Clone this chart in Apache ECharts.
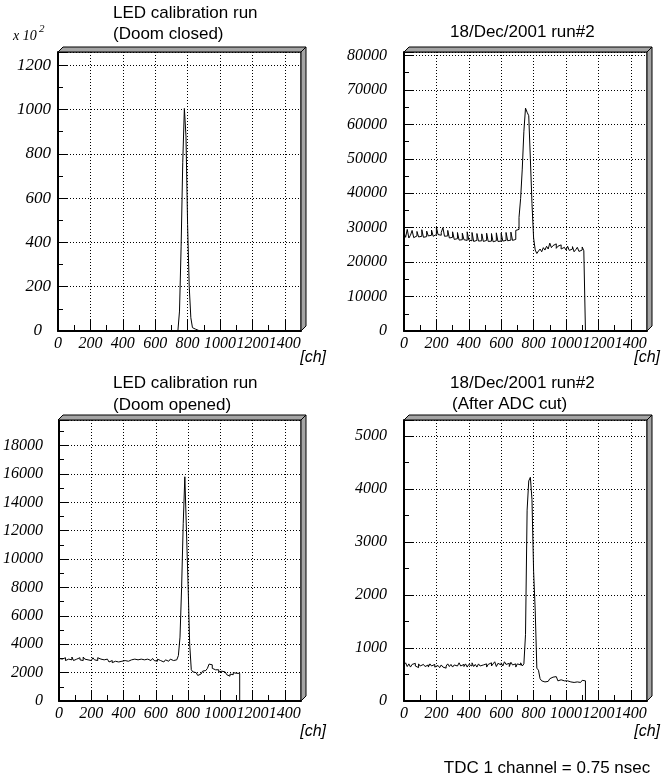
<!DOCTYPE html>
<html lang="en">
<head>
<meta charset="UTF-8">
<title>TDC spectra</title>
<script src="https://cdn.jsdelivr.net/npm/echarts@6/dist/echarts.min.js"></script>
<style>
  * {padding: 0; margin: 0;}
  body {background: #fff;}
  #main {width: 669px; height: 778px;}
</style>
</head>
<body>
<div id="main"></div>
<script>
const binWidth = 10; // TDC channels per bin

// top left: LED calibration run, doom closed (counts x 10^2)
const closedStart = 740;
const closedCounts = [0, 90, 380, 760, 1005, 880, 480, 200, 60, 15, 8, 4, 2, 0];

// top right: 18/Dec/2001 run#2
const runStart = 0;
const runCounts = [
    28500, 27200, 29500, 27000, 27800, 29200, 27100, 27600, 28900, 27300,
    27500, 29400, 27200, 27400, 29000, 27600, 27800, 29300, 27500, 28000,
    30200, 28000, 27800, 28600, 30000, 27500, 27600, 29200, 27000, 27200,
    28800, 26600, 26800, 28600, 26400, 26500, 28400, 26500, 26300, 28800,
    26400, 26200, 28600, 26000, 26300, 28300, 26100, 26200, 28200, 26000,
    26300, 28400, 26000, 26100, 28300, 25900, 26200, 28500, 26000, 26100,
    28400, 26100, 26300, 28600, 26200, 26400, 28700, 26300, 26600, 29200,
    29500, 33000, 38500, 47000, 58000, 64700, 63500, 62500, 50000, 37000,
    27000, 23500, 22500, 23200, 23800, 23000, 24200, 23500, 24600, 23800,
    25500, 24200, 24800, 25300, 24000, 24600, 25000, 23800, 24300, 24800,
    23500, 24600, 23400, 23800, 24500, 23000, 23600, 24300, 23100, 23500, 24400, 23300
];

// bottom left: LED calibration run, doom opened
const openedStart = 0;
const openedCounts = [
    3000, 2950, 2900, 3050, 2850, 2950, 3000, 2900, 3100, 2850,
    2950, 2900, 3050, 2900, 2850, 3100, 2950, 2900, 3000, 2850,
    2950, 3050, 2900, 2850, 3050, 2950, 2850, 2900, 3000, 2950,
    2900, 2750, 2850, 2700, 2800, 2900, 2750, 2850, 2800, 2900,
    2850, 2950, 2800, 2850, 2900, 2800, 2950, 2850, 2900, 2800,
    2950, 2850, 2900, 2800, 2950, 2900, 2850, 2900, 3000, 2850,
    2800, 2950, 2850, 2900, 2750, 2850, 2900, 2800, 2850, 2950,
    2850, 2950, 2900, 2950, 3200, 4500, 8000, 12500, 15800, 12000,
    8200, 4000, 2200, 2050, 2000, 1900, 1800, 1900, 2000, 2100,
    2150, 2200, 2300, 2600, 2550, 2300, 2200, 2100, 2200, 2050,
    2100, 2000, 2050, 1950, 1850, 1750, 1900, 1850, 2000, 1950, 2050, 1950
];

// bottom right: 18/Dec/2001 run#2 after ADC cut
const cutStart = 0;
const cutCounts = [
    680, 720, 650, 700, 640, 690, 710, 660, 630, 700,
    660, 690, 710, 650, 680, 640, 700, 660, 690, 640,
    670, 650, 630, 680, 640, 620, 660, 700, 650, 690,
    640, 680, 660, 650, 720, 660, 690, 650, 700, 640,
    690, 660, 720, 650, 690, 640, 700, 660, 680, 650,
    700, 640, 690, 720, 660, 700, 740, 650, 710, 680,
    720, 660, 740, 690, 710, 650, 730, 680, 700, 640,
    700, 680, 720, 660, 700, 1250, 3600, 4150, 4220, 3800,
    2450, 1700, 620, 580, 420, 380, 360, 390, 370, 400,
    420, 450, 430, 460, 440, 380, 400, 370, 380, 360,
    380, 370, 360, 390, 350, 370, 360, 380, 350, 370, 390, 380
];

const titles = [
    ['LED calibration run', '(Doom closed)'],
    ['', '18/Dec/2001 run#2'],
    ['LED calibration run', '(Doom opened)'],
    ['18/Dec/2001 run#2', '(After ADC cut)']
];
const yMax = [1260, 81000, 19800, 5300];
const yStep = [200, 10000, 2000, 1000];
const xMax = 1500;
const xStep = 200;

const hists = [
    [closedStart, closedCounts],
    [runStart, runCounts],
    [openedStart, openedCounts],
    [cutStart, cutCounts]
];

// panel frames in pixels
const boxes = [
    {left: 58, top: 52, width: 243, height: 279},
    {left: 404, top: 52, width: 243, height: 279},
    {left: 58, top: 420, width: 243, height: 281},
    {left: 404, top: 420, width: 243, height: 281}
];
const yLabelMargin = [7, 17, 16, 17];
const yLabelSize = [17, 16, 16, 16];
const zeroShift = [9, 0, 0, 0];

function histData(start, counts) {
    const d = counts.map((v, i) => [start + i * binWidth, v]);
    d.push([start + counts.length * binWidth, 0]);
    return d;
}

const labelFont = {fontFamily: 'Liberation Serif', fontStyle: 'italic', fontSize: 16, color: '#000'};
const dots = {color: '#000', width: 1, type: [1, 2]};

const grids = boxes.map(b => ({
    left: b.left, top: b.top, width: b.width, height: b.height,
    show: true, borderColor: '#000', borderWidth: 1
}));

const xAxes = boxes.map((b, i) => ({
    type: 'value', gridIndex: i, min: 0, max: xMax, interval: xStep,
    axisLine: {onZero: false, lineStyle: {color: '#000', width: 2}},
    axisTick: {inside: true, length: 11, lineStyle: {color: '#000'}},
    minorTick: {show: true, splitNumber: 2, length: 6, lineStyle: {color: '#000'}},
    splitLine: {show: true, lineStyle: dots},
    axisLabel: Object.assign({margin: 5, showMaxLabel: false, formatter: v => String(v)}, labelFont)
}));

const yAxes = boxes.map((b, i) => {
    const f = Object.assign({}, labelFont, {fontSize: yLabelSize[i]});
    return {
        type: 'value', gridIndex: i, min: 0, max: yMax[i], interval: yStep[i],
        axisLine: {onZero: false, lineStyle: {color: '#000', width: 2}},
        axisTick: {inside: true, length: 10, lineStyle: {color: '#000'}},
        minorTick: {show: true, splitNumber: 2, length: 5, lineStyle: {color: '#000'}},
        splitLine: {show: true, lineStyle: dots},
        axisLabel: Object.assign({
            margin: yLabelMargin[i], showMaxLabel: false,
            formatter: v => (v === 0 ? '{z|0}' : String(v)),
            rich: {z: Object.assign({padding: [0, zeroShift[i], 0, 0]}, f)}
        }, f)
    };
});

const series = hists.map((h, i) => ({
    type: 'line', xAxisIndex: i, yAxisIndex: i,
    step: 'end', symbol: 'none', animation: false,
    lineStyle: {color: '#000', width: 1},
    data: histData(h[0], h[1])
}));

// grey 3D edge on top and right of each frame
const depth = 5;
const graphic = [];
boxes.forEach(b => {
    const x0 = b.left, x1 = b.left + b.width, y0 = b.top, y1 = b.top + b.height;
    graphic.push({
        type: 'polygon', z: 10,
        shape: {points: [[x0, y0], [x0 + depth, y0 - depth], [x1 + depth, y0 - depth], [x1, y0]]},
        style: {fill: '#a4a4a4', stroke: '#000', lineWidth: 1}
    });
    graphic.push({
        type: 'polygon', z: 10,
        shape: {points: [[x1, y0], [x1 + depth, y0 - depth], [x1 + depth, y1 - depth], [x1, y1]]},
        style: {fill: '#a4a4a4', stroke: '#000', lineWidth: 1}
    });
});

function txt(s, x, y, font, align) {
    return {
        type: 'text', z: 20,
        style: {text: s, x: x, y: y, font: font, fill: '#000',
                textAlign: align || 'left', textVerticalAlign: 'middle',
                align: align || 'left', verticalAlign: 'middle'}
    };
}

const titleFont = '17px "Liberation Sans"';
graphic.push(txt(titles[0][0], 113, 13, titleFont));
graphic.push(txt(titles[0][1], 113, 34, titleFont));
graphic.push(txt(titles[1][1], 450, 32, titleFont));
graphic.push(txt(titles[2][0], 113, 383, titleFont));
graphic.push(txt(titles[2][1], 113, 405, titleFont));
graphic.push(txt(titles[3][0], 450, 383, titleFont));
graphic.push(txt(titles[3][1], 452, 404, titleFont));

const chFont = 'italic 16px "Liberation Sans"';
graphic.push(txt('[ch]', 326, 358, chFont, 'right'));
graphic.push(txt('[ch]', 660, 358, chFont, 'right'));
graphic.push(txt('[ch]', 326, 732, chFont, 'right'));
graphic.push(txt('[ch]', 660, 732, chFont, 'right'));

graphic.push(txt('x 10', 13, 36, 'italic 14px "Liberation Serif"'));
graphic.push(txt('2', 39, 29, 'italic 11px "Liberation Serif"'));

graphic.push(txt('TDC 1 channel = 0.75 nsec', 547, 768, '17px "Liberation Sans"', 'center'));

const chart = echarts.init(document.getElementById('main'));
chart.setOption({
    animation: false,
    grid: grids,
    xAxis: xAxes,
    yAxis: yAxes,
    series: series,
    graphic: graphic
});
</script>
</body>
</html>
